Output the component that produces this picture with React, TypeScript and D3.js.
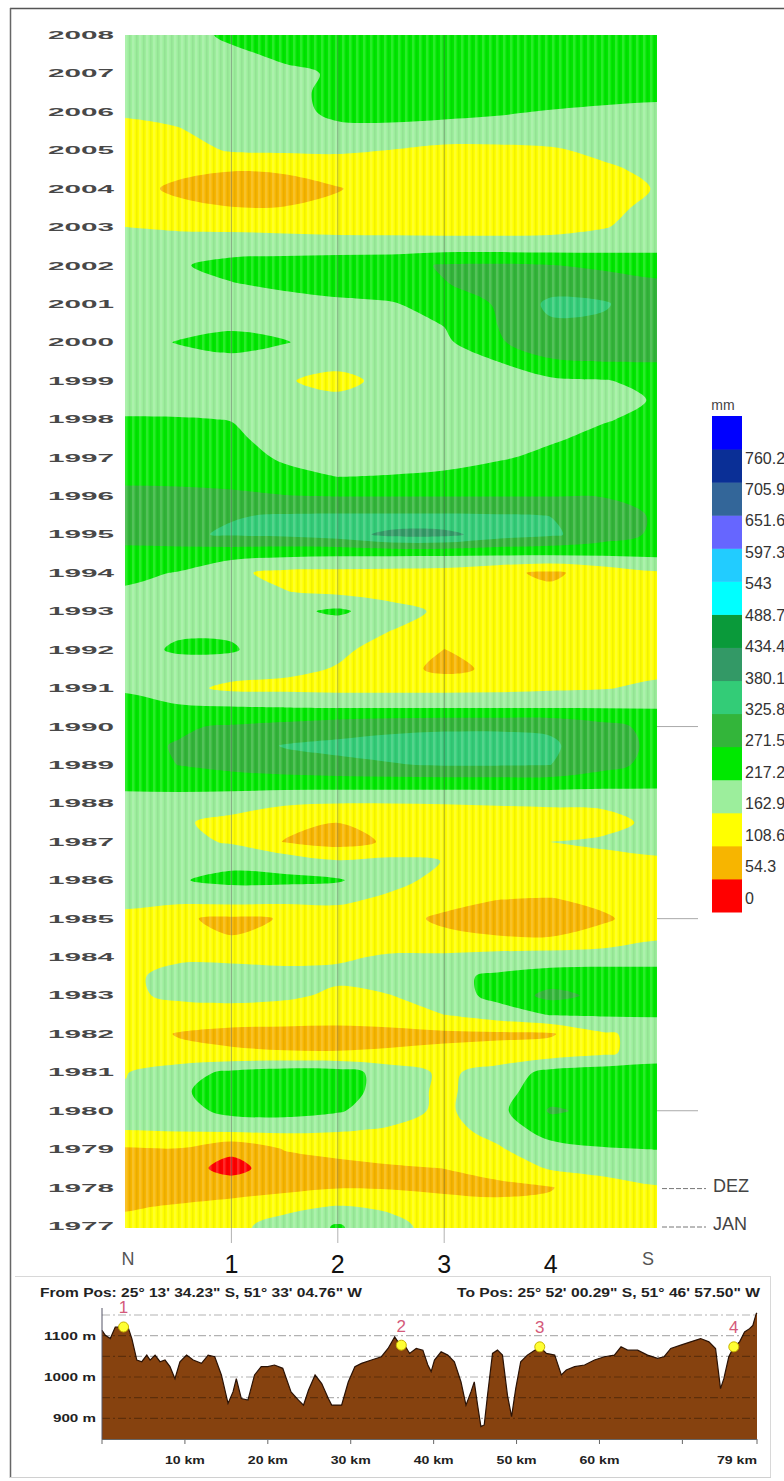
import React, { useMemo } from "react";
import * as d3 from "d3";

// ---------- DATA ----------
const positions = ["N", "1", "2", "3", "4", "S"];
const samplePositions = [0, 0.5, 1, 1.5, 2, 2.5, 3, 3.5, 4, 4.5, 5];
const sampleYears = [
  2008, 2007.5, 2007, 2006.5, 2006, 2005.5, 2005, 2004.5, 2004, 2003.5, 2003, 2002.5, 2002, 2001.5, 2001, 2000.5,
  2000, 1999.5, 1999, 1998.5, 1998, 1997.5, 1997, 1996.5, 1996, 1995.5, 1995, 1994.5, 1994, 1993.5, 1993, 1992.5,
  1992, 1991.5, 1991, 1990.5, 1990, 1989.5, 1989, 1988.5, 1988, 1987.5, 1987, 1986.5, 1986, 1985.5, 1985, 1984.5,
  1984, 1983.5, 1983, 1982.5, 1982, 1981.5, 1981, 1980.5, 1980, 1979.5, 1979, 1978.5, 1978, 1977.5, 1977,
];
const yearLabels = [
  2008, 2007, 2006, 2005, 2004, 2003, 2002, 2001, 2000, 1999, 1998, 1997, 1996, 1995, 1994, 1993,
  1992, 1991, 1990, 1989, 1988, 1987, 1986, 1985, 1984, 1983, 1982, 1981, 1980, 1979, 1978, 1977,
];
// rainfall (mm), one row per sampled time, columns N .. S
const rainfall = [
  [190, 195, 228, 244, 244, 244, 244, 244, 244, 244, 244],
  [190, 195, 206, 228, 244, 244, 244, 244, 244, 244, 244],
  [190, 190, 195, 206, 223, 244, 244, 244, 244, 244, 244],
  [185, 190, 195, 206, 228, 244, 244, 244, 244, 239, 233],
  [168, 174, 185, 201, 228, 231, 228, 223, 214, 206, 201],
  [152, 160, 179, 193, 206, 206, 201, 195, 190, 190, 190],
  [136, 141, 168, 171, 171, 162, 147, 149, 157, 174, 185],
  [136, 119, 111, 114, 130, 136, 136, 136, 136, 155, 174],
  [125, 100, 87, 92, 106, 130, 130, 130, 130, 141, 166],
  [141, 119, 110, 110, 119, 130, 130, 130, 133, 147, 179],
  [163, 157, 152, 147, 141, 141, 141, 141, 144, 160, 185],
  [179, 185, 195, 195, 195, 193, 190, 190, 190, 195, 201],
  [190, 212, 233, 239, 244, 250, 277, 280, 274, 261, 250],
  [190, 206, 214, 225, 233, 239, 269, 288, 304, 299, 282],
  [179, 185, 190, 201, 209, 214, 233, 277, 337, 331, 293],
  [185, 195, 206, 201, 190, 195, 220, 272, 320, 318, 293],
  [195, 220, 233, 220, 195, 185, 206, 266, 299, 299, 299],
  [190, 195, 205, 185, 174, 185, 195, 217, 266, 272, 273],
  [185, 190, 190, 166, 152, 174, 190, 195, 206, 214, 233],
  [201, 195, 190, 185, 171, 179, 185, 190, 195, 206, 220],
  [220, 220, 216, 190, 185, 185, 190, 195, 201, 214, 228],
  [239, 233, 225, 201, 190, 190, 195, 206, 212, 228, 233],
  [250, 244, 233, 212, 195, 195, 201, 212, 228, 239, 244],
  [263, 261, 255, 228, 217, 220, 225, 239, 250, 255, 250],
  [282, 282, 280, 274, 270, 270, 270, 270, 270, 269, 250],
  [293, 304, 323, 329, 331, 331, 331, 329, 325, 304, 263],
  [299, 318, 331, 337, 353, 396, 396, 353, 334, 299, 261],
  [250, 244, 239, 233, 228, 228, 228, 228, 228, 228, 231],
  [228, 215, 172, 150, 148, 145, 141, 119, 100, 130, 157],
  [212, 195, 185, 165, 152, 141, 136, 130, 119, 136, 147],
  [190, 190, 195, 201, 228, 185, 152, 136, 130, 136, 141],
  [195, 209, 209, 195, 179, 163, 136, 130, 136, 141, 147],
  [195, 225, 223, 185, 171, 147, 108, 125, 136, 141, 147],
  [190, 190, 185, 174, 160, 130, 95, 119, 136, 141, 149],
  [212, 178, 152, 150, 147, 147, 147, 149, 155, 160, 174],
  [233, 225, 220, 217, 214, 214, 214, 214, 214, 214, 214],
  [250, 266, 277, 288, 304, 315, 320, 320, 318, 288, 255],
  [261, 274, 299, 329, 337, 342, 342, 342, 334, 293, 261],
  [250, 272, 288, 304, 315, 323, 329, 329, 326, 288, 255],
  [233, 239, 239, 239, 239, 239, 239, 239, 239, 233, 228],
  [190, 185, 179, 168, 163, 163, 164, 166, 167, 168, 179],
  [185, 168, 152, 125, 109, 125, 141, 141, 147, 152, 171],
  [190, 179, 157, 106, 87, 117, 152, 155, 163, 168, 179],
  [190, 201, 206, 195, 166, 174, 162, 152, 152, 155, 157],
  [195, 214, 228, 228, 223, 179, 147, 141, 136, 141, 147],
  [174, 179, 185, 179, 174, 152, 125, 109, 106, 119, 136],
  [152, 114, 100, 111, 136, 125, 100, 92, 87, 103, 130],
  [141, 130, 110, 125, 136, 141, 119, 111, 110, 125, 157],
  [141, 155, 152, 149, 157, 168, 174, 185, 190, 195, 201],
  [152, 179, 185, 179, 174, 190, 206, 225, 239, 239, 233],
  [152, 174, 185, 174, 152, 162, 190, 233, 288, 258, 244],
  [141, 136, 130, 130, 130, 136, 163, 190, 220, 223, 223],
  [130, 106, 98, 95, 92, 95, 98, 100, 103, 157, 179],
  [147, 119, 114, 111, 111, 114, 119, 125, 136, 155, 185],
  [160, 195, 228, 244, 239, 195, 152, 185, 233, 244, 244],
  [168, 206, 250, 255, 244, 190, 152, 195, 250, 261, 255],
  [174, 195, 233, 239, 223, 185, 152, 201, 277, 261, 255],
  [163, 168, 174, 174, 168, 157, 147, 179, 244, 244, 239],
  [103, 106, 65, 111, 119, 130, 136, 157, 195, 214, 218],
  [87, 76, 38, 81, 98, 103, 109, 125, 168, 179, 185],
  [87, 81, 81, 92, 106, 103, 98, 98, 106, 141, 160],
  [103, 114, 130, 152, 166, 157, 130, 119, 119, 136, 141],
  [125, 136, 152, 179, 223, 174, 147, 136, 136, 136, 141],
];
const levels = [0, 54.3, 108.6, 162.9, 217.2, 271.5, 325.8, 380.1, 434.4, 488.7, 543, 597.3, 651.6, 705.9, 760.2];
const levelLabels = ["0", "54.3", "108.6", "162.9", "217.2", "271.5", "325.8", "380.1", "434.4", "488.7", "543", "597.3", "651.6", "705.9", "760.2"];
const levelColors = [
  "#ff0000", "#f7b500", "#ffff00", "#9cee9c", "#00e800", "#33b53a", "#33cc77", "#339966",
  "#0a9a3a", "#00ffff", "#22ccff", "#6666ff", "#336699", "#0a2f96", "#0000ff",
];
const tickYears = [1990, 1985, 1980];
const monthMarks = [{ year: 1978, label: "DEZ" }, { year: 1977, label: "JAN" }];

// elevation profile
const profileKm = [
  0, 0.4, 1.0, 1.6, 2.6, 3.2, 3.6, 4.2, 4.8, 5.4, 5.8, 6.4, 7.0, 7.6, 8.2, 8.8, 9.4, 10.2, 11.0, 12.0,
  12.8, 13.6, 14.4, 15.2, 15.8, 16.2, 16.8, 17.6, 18.4, 19.2, 20.0, 20.8, 21.8, 22.8, 23.7, 24.3, 24.9, 25.7, 26.5, 27.3,
  27.7, 28.9, 29.7, 30.5, 31.3, 32.5, 33.7, 34.5, 35.3, 35.7, 36.5, 37.1, 37.9, 38.7, 39.3, 39.7, 40.1, 40.9, 41.7, 42.5,
  43.3, 43.9, 44.5, 44.9, 45.3, 45.7, 46.1, 46.5, 47.1, 47.7, 48.3, 48.9, 49.4, 49.9, 50.5, 51.3, 52.2, 52.8, 53.6, 54.6,
  55.4, 56.0, 57.0, 58.2, 59.4, 60.6, 61.8, 62.6, 63.4, 64.6, 65.8, 67.0, 67.8, 68.6, 69.8, 71.0, 72.2, 73.2, 74.0, 74.6,
  75.0, 75.6, 76.2, 76.9, 77.5, 78.1, 78.5, 78.9, 79.0,
];
const profileElev = [
  1113, 1101, 1093, 1121, 1121, 1117, 1093, 1041, 1037, 1053, 1041, 1053, 1037, 1041, 1025, 996, 1037, 1053, 1041, 1033,
  1053, 1049, 1005, 936, 964, 996, 948, 944, 1005, 1025, 1025, 1029, 1021, 964, 944, 932, 968, 1005, 984, 948,
  932, 932, 988, 1025, 1033, 1041, 1049, 1069, 1097, 1085, 1077, 1057, 1069, 1065, 1029, 1013, 1041, 1061, 1053, 1037,
  988, 932, 964, 988, 932, 880, 884, 956, 1057, 1065, 1053, 956, 904, 972, 1037, 1053, 1065, 1073, 1057, 1053,
  1005, 1017, 1025, 1029, 1041, 1049, 1053, 1073, 1065, 1065, 1053, 1045, 1049, 1069, 1077, 1085, 1093, 1085, 1069, 972,
  996, 1049, 1073, 1085, 1109, 1117, 1125, 1153, 1155,
];
const markerKm = [2.6, 36.1, 52.8, 76.2];
const markerElev = [1121, 1077, 1073, 1073];
const markerLabels = ["1", "2", "3", "4"];
const elevGrid = [1150, 1100, 1050, 1000, 950, 900];
const elevLabels = [1100, 1000, 900];
const kmTicks = [0, 10, 20, 30, 40, 50, 60, 70, 79];
const kmLabels = [10, 20, 30, 40, 50, 60];
const fromText = "From Pos: 25\u00b0 13' 34.23\" S, 51\u00b0 33' 04.76\" W";
const toText = "To Pos: 25\u00b0 52' 00.29\" S, 51\u00b0 46' 57.50\" W";

const SANS = "'Liberation Sans', Arial, 'DejaVu Sans', sans-serif";

export default function App() {
  const posScale = d3.scaleLinear().domain([0, 5]).range([125, 657]);
  const yearScale = d3.scaleLinear().domain([2008, 1977]).range([35, 1226]);
  const plotTop = 35;
  const plotBottom = 1228;

  const layers = useMemo(() => {
    const nC = samplePositions.length;
    const nR = sampleYears.length;
    const nx = nC + 2;
    const ny = nR + 2;
    const values: number[] = [];
    for (let j = 0; j < ny; j++) {
      const row = rainfall[Math.min(Math.max(j - 1, 0), nR - 1)];
      for (let i = 0; i < nx; i++) values.push(row[Math.min(Math.max(i - 1, 0), nC - 1)]);
    }
    const gx = d3.scaleLinear().domain([1.5, nx - 1.5]).range([posScale(samplePositions[0]), posScale(samplePositions[nC - 1])]);
    const gy = d3.scaleLinear().domain([1.5, ny - 1.5]).range([yearScale(sampleYears[0]), yearScale(sampleYears[nR - 1])]);
    const line = d3.line().curve(d3.curveCatmullRomClosed.alpha(0.5));
    const gen = d3.contours().size([nx, ny]).thresholds(levels);
    return gen(values).map((c: any, idx: number) => {
      let d = "";
      for (const poly of c.coordinates) {
        for (const ring of poly) {
          const pts = ring.slice(0, -1).map((p: number[]) => [gx(p[0]), gy(p[1])] as [number, number]);
          if (pts.length > 2) d += line(pts);
        }
      }
      return { d, color: levelColors[idx] };
    });
  }, []);

  // profile
  const kmScale = d3.scaleLinear().domain([0, 79]).range([102, 757]);
  const elevScale = d3.scaleLinear().domain([850, 1150]).range([1439, 1315]);
  const profilePts = profileKm.map((k, i) => [k, profileElev[i]] as [number, number]);
  const area = d3.area<[number, number]>().x((d) => kmScale(d[0])).y0(elevScale(850)).y1((d) => elevScale(d[1]));
  const topLine = d3.line<[number, number]>().x((d) => kmScale(d[0])).y((d) => elevScale(d[1]));

  // legend
  const legTop = 416;
  const legBottom = 912;
  const bandH = (legBottom - legTop) / levels.length;
  const labelScale = d3.scaleLinear().domain([0, levels.length - 1]).range([898, 458]);

  return (
    <svg
      width={784}
      height={1481}
      viewBox="0 0 784 1481"
      style={{ position: "absolute", left: 0, top: 0, display: "block", background: "#fff" }}
      fontFamily={SANS}
    >
      <defs>
        <clipPath id="plotClip">
          <rect x={posScale(0)} y={plotTop} width={posScale(5) - posScale(0)} height={plotBottom - plotTop} />
        </clipPath>
        <pattern id="stripes" x={posScale(0)} y={0} width={7} height={20} patternUnits="userSpaceOnUse">
          <rect x={0} y={0} width={2.5} height={20} fill="#ffffff" opacity={0.16} />
          <rect x={4} y={0} width={1.5} height={20} fill="#000000" opacity={0.05} />
        </pattern>
      </defs>
      <rect x={0} y={0} width={784} height={1481} fill="#ffffff" />

      {/* outer frame */}
      <line x1={10} y1={8.5} x2={784} y2={8.5} stroke="#555" strokeWidth={1.5} />
      <line x1={10.5} y1={8} x2={10.5} y2={1478} stroke="#666" strokeWidth={1.5} />
      <line x1={15} y1={1276.5} x2={770} y2={1276.5} stroke="#d8d8d8" strokeWidth={1} />
      <line x1={770.5} y1={1276} x2={770.5} y2={1477} stroke="#d8d8d8" strokeWidth={1} />
      <line x1={10} y1={1477.5} x2={771} y2={1477.5} stroke="#d0d0d0" strokeWidth={1} />

      {/* contour field */}
      <g clipPath="url(#plotClip)">
        {layers.map((l, i) => (
          <path key={i} d={l.d} fill={l.color} fillRule="evenodd" stroke="none" />
        ))}
        <rect x={posScale(0)} y={plotTop} width={posScale(5) - posScale(0)} height={plotBottom - plotTop} fill="url(#stripes)" />
      </g>

      {/* position lines */}
      {[1, 2, 3].map((p) => (
        <line key={p} x1={posScale(p)} x2={posScale(p)} y1={plotTop} y2={1243} stroke="#555" strokeOpacity={0.45} strokeWidth={1} />
      ))}

      {/* year labels */}
      {yearLabels.map((y) => (
        <text
          key={y}
          x={48}
          y={yearScale(y)}
          dominantBaseline="central"
          fontSize={10.5}
          fontWeight="bold"
          fill="#484848"
          textLength={66}
          lengthAdjust="spacingAndGlyphs"
        >
          {y}
        </text>
      ))}

      {/* right side ticks */}
      {tickYears.map((y) => (
        <line key={y} x1={657} x2={698} y1={yearScale(y)} y2={yearScale(y)} stroke="#aaa" strokeWidth={1} />
      ))}
      {monthMarks.map((m) => (
        <g key={m.label}>
          <line x1={662} x2={706} y1={yearScale(m.year) + 1} y2={yearScale(m.year) + 1} stroke="#777" strokeDasharray="5 2" strokeWidth={1} />
          <text x={713} y={yearScale(m.year) - 2} dominantBaseline="central" fontSize={18} fill="#444">
            {m.label}
          </text>
        </g>
      ))}

      {/* legend */}
      <text x={723} y={405} textAnchor="middle" dominantBaseline="central" fontSize={14} fill="#444">
        mm
      </text>
      {levels.map((lv, i) => (
        <rect key={i} x={712} y={legBottom - (i + 1) * bandH} width={30} height={bandH + 0.5} fill={levelColors[i]} />
      ))}
      {levelLabels.map((t, i) => (
        <text key={t} x={745} y={labelScale(i)} dominantBaseline="central" fontSize={16} fill="#333">
          {t}
        </text>
      ))}

      {/* position labels */}
      {positions.map((p, i) => {
        const isEnd = i === 0 || i === positions.length - 1;
        const x = i === 0 ? 128 : i === positions.length - 1 ? 648 : posScale(i);
        return (
          <text
            key={p}
            x={x}
            y={isEnd ? 1265 : 1273}
            textAnchor="middle"
            fontSize={isEnd ? 18 : 25}
            fill={isEnd ? "#555" : "#111"}
          >
            {p}
          </text>
        );
      })}

      {/* profile panel */}
      <text x={40} y={1297} fontSize={13} fontWeight="bold" fill="#222" textLength={322} lengthAdjust="spacingAndGlyphs">
        {fromText}
      </text>
      <text x={457} y={1297} fontSize={13} fontWeight="bold" fill="#222" textLength={303} lengthAdjust="spacingAndGlyphs">
        {toText}
      </text>

      <path d={area(profilePts) || ""} fill="#86420f" />
      <path d={topLine(profilePts) || ""} fill="none" stroke="#2a1205" strokeWidth={1.2} />

      {elevGrid.map((e) => (
        <line
          key={e}
          x1={kmScale(0)}
          x2={kmScale(79)}
          y1={elevScale(e)}
          y2={elevScale(e)}
          stroke="#000"
          strokeOpacity={0.3}
          strokeDasharray="8 3 2 3"
          strokeWidth={1.2}
        />
      ))}
      <line x1={kmScale(0)} x2={kmScale(0)} y1={1308} y2={elevScale(850)} stroke="#556" strokeWidth={1} />
      <line x1={kmScale(0)} x2={kmScale(79)} y1={elevScale(850) + 0.5} y2={elevScale(850) + 0.5} stroke="#666" strokeWidth={1} />
      {kmTicks.map((k) => (
        <line key={k} x1={kmScale(k)} x2={kmScale(k)} y1={elevScale(850)} y2={elevScale(850) + 5} stroke="#666" strokeWidth={1} />
      ))}
      {kmLabels.map((k) => (
        <text key={k} x={kmScale(k)} y={1464} textAnchor="middle" fontSize={11} fontWeight="bold" fill="#222" textLength={40} lengthAdjust="spacingAndGlyphs">
          {`${k} km`}
        </text>
      ))}
      <text x={757} y={1464} textAnchor="end" fontSize={11} fontWeight="bold" fill="#222" textLength={40} lengthAdjust="spacingAndGlyphs">
        79 km
      </text>
      {elevLabels.map((e) => (
        <text
          key={e}
          x={96}
          y={elevScale(e)}
          textAnchor="end"
          dominantBaseline="central"
          fontSize={11}
          fontWeight="bold"
          fill="#222"
          textLength={e >= 1000 ? 52 : 43}
          lengthAdjust="spacingAndGlyphs"
        >
          {`${e} m`}
        </text>
      ))}

      {markerKm.map((k, i) => (
        <g key={i}>
          <circle cx={kmScale(k)} cy={elevScale(markerElev[i])} r={5} fill="#ffff33" stroke="#c8b400" strokeWidth={1} />
          <text
            x={kmScale(k)}
            y={elevScale(markerElev[i]) - 19}
            textAnchor="middle"
            dominantBaseline="central"
            fontSize={17}
            fill="#d45a7a"
          >
            {markerLabels[i]}
          </text>
        </g>
      ))}
    </svg>
  );
}
